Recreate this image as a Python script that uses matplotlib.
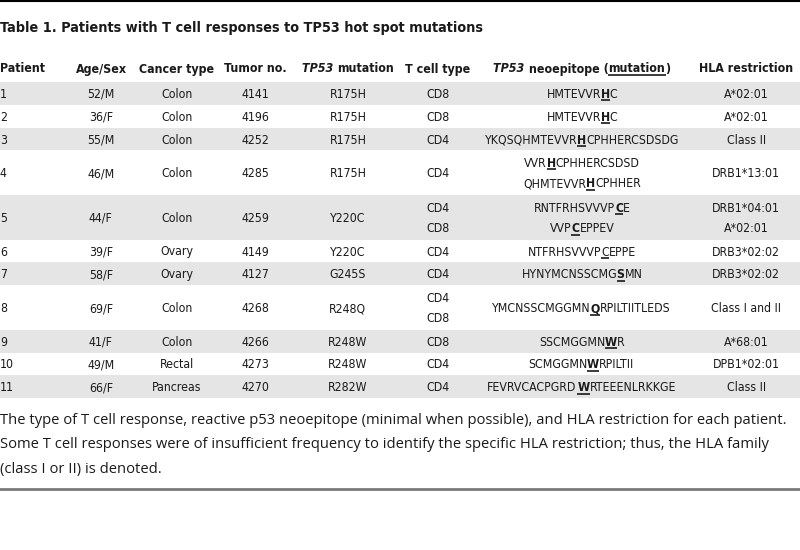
import re

import matplotlib as mpl

mpl.use("agg")
import matplotlib.pyplot as plt
from matplotlib.font_manager import FontProperties, findfont
from matplotlib.ft2font import FT2Font

title = "Table 1. Patients with T cell responses to TP53 hot spot mutations"

patients = ["1", "2", "3", "4", "5", "6", "7", "8", "9", "10", "11"]
age_sex = ["52/M", "36/F", "55/M", "46/M", "44/F", "39/F", "58/F", "69/F", "41/F", "49/M", "66/F"]
cancer_type = ["Colon", "Colon", "Colon", "Colon", "Colon", "Ovary", "Ovary", "Colon", "Colon", "Rectal", "Pancreas"]
tumor_no = ["4141", "4196", "4252", "4285", "4259", "4149", "4127", "4268", "4266", "4273", "4270"]
tp53_mutation = ["R175H", "R175H", "R175H", "R175H", "Y220C", "Y220C", "G245S", "R248Q", "R248W", "R248W", "R282W"]
tcell_type = [["CD8"], ["CD8"], ["CD4"], ["CD4"], ["CD4", "CD8"], ["CD4"], ["CD4"],
              ["CD4", "CD8"], ["CD8"], ["CD4"], ["CD4"]]
# mutated residue: [X] bold + underlined, {X} underlined only
neoepitope = [["HMTEVVR[H]C"], ["HMTEVVR[H]C"], ["YKQSQHMTEVVR[H]CPHHERCSDSDG"],
              ["VVR[H]CPHHERCSDSD", "QHMTEVVR[H]CPHHER"],
              ["RNTFRHSVVVP[C]E", "VVP[C]EPPEV"], ["NTFRHSVVVP{C}EPPE"],
              ["HYNYMCNSSCMG[S]MN"], ["YMCNSSCMGGMN[Q]RPILTIITLEDS"],
              ["SSCMGGMN[W]R"], ["SCMGGMN[W]RPILTII"], ["FEVRVCACPGRD[W]RTEEENLRKKGE"]]
hla_restriction = [["A*02:01"], ["A*02:01"], ["Class II"], ["DRB1*13:01"],
                   ["DRB1*04:01", "A*02:01"], ["DRB3*02:02"], ["DRB3*02:02"],
                   ["Class I and II"], ["A*68:01"], ["DPB1*02:01"], ["Class II"]]

caption = [
    "The type of T cell response, reactive p53 neoepitope (minimal when possible), and HLA restriction for each patient.",
    "Some T cell responses were of insufficient frequency to identify the specific HLA restriction; thus, the HLA family",
    "(class I or II) is denoted.",
]

NARROW = dict(family="DejaVu Sans", stretch="condensed")
BODY = dict(NARROW, size=8.8)
INK = "#1a1a1a"
SHADE = "#e5e5e5"
DPI = 100

col_x = [0, 101, 177, 256, 348, 438, 582, 746]
col_ha = ["left"] + ["center"] * 7
unit = 22.8
line_gap = 20.5
table_top = 82

fig = plt.figure(figsize=(8, 5.5), dpi=DPI, facecolor="white")
ax = fig.add_axes([0, 0, 1, 1])
ax.set_xlim(0, 800)
ax.set_ylim(550, 0)
ax.axis("off")


def advance(s, fp):
    # pen advance in pixels (keeps spaces, unlike the ink bbox)
    font = FT2Font(findfont(fp))
    font.set_size(fp.get_size_in_points(), DPI)
    return sum(font.load_char(ord(c)).linearHoriAdvance for c in s) / 65536


def draw_runs(x, y, runs, ha="center"):
    # runs: list of (text, style dict, underline)
    props = []
    for s, style, ul in runs:
        p = dict(BODY)
        p.update(style)
        props.append(FontProperties(**p))
    widths = [advance(s, fp) for (s, _, _), fp in zip(runs, props)]
    start = x - sum(widths) / 2 if ha == "center" else x
    for (s, style, ul), fp, w in zip(runs, props, widths):
        ax.text(start, y, s, fontproperties=fp, va="baseline", ha="left", color=INK)
        if ul:
            ax.plot([start, start + w], [y + 2.5, y + 2.5], color=INK, lw=1.2,
                    solid_capstyle="butt")
        start += w


def epitope_runs(seq):
    runs = []
    for part in re.split(r"(\[.\]|\{.\})", seq):
        if not part:
            continue
        if part[0] == "[":
            runs.append((part[1], {"weight": "bold"}, True))
        elif part[0] == "{":
            runs.append((part[1], {}, True))
        else:
            runs.append((part, {}, False))
    return runs


# frame lines
ax.plot([0, 800], [0.5, 0.5], color="black", lw=1.5)
ax.plot([0, 800], [489, 489], color="#7a7a7a", lw=2)

ax.text(0, 32, title, fontproperties=FontProperties(weight="bold", size=10.4, **NARROW),
        va="baseline", ha="left", color=INK)

B = {"weight": "bold", "size": 8.9}
BI = {"weight": "bold", "style": "italic", "size": 8.9}
headers = [
    [("Patient", B, False)],
    [("Age/Sex", B, False)],
    [("Cancer type", B, False)],
    [("Tumor no.", B, False)],
    [("TP53 ", BI, False), ("mutation", B, False)],
    [("T cell type", B, False)],
    [("TP53 ", BI, False), ("neoepitope (", B, False), ("mutation", B, True), (")", B, False)],
    [("HLA restriction", B, False)],
]
for x, ha, runs in zip(col_x, col_ha, headers):
    draw_runs(x, 72.5, runs, ha)

y = table_top
for i in range(len(patients)):
    n = max(len(tcell_type[i]), len(neoepitope[i]), len(hla_restriction[i]))
    h = unit if n == 1 else 2 * unit - 1
    if i % 2 == 0:
        ax.add_patch(plt.Rectangle((0, y), 800, h, color=SHADE, lw=0, zorder=0))
    base = y + h / 2 + 4.5
    for x, ha, val in zip(col_x[:5], col_ha[:5],
                          [patients[i], age_sex[i], cancer_type[i], tumor_no[i], tp53_mutation[i]]):
        draw_runs(x, base, [(val, {}, False)], ha)
    for col, cells in ((5, tcell_type[i]), (6, neoepitope[i]), (7, hla_restriction[i])):
        m = len(cells)
        for k, c in enumerate(cells):
            yy = base + (k - (m - 1) / 2) * line_gap
            runs = epitope_runs(c) if col == 6 else [(c, {}, False)]
            draw_runs(col_x[col], yy, runs, "center")
    y += h

for k, line in enumerate(caption):
    ax.text(0, 421 + k * 24, line, family=["Open Sans", "DejaVu Sans"], fontsize=10.65,
            va="center", ha="left", color=INK)

fig.savefig("out.png", dpi=DPI, facecolor="white")
